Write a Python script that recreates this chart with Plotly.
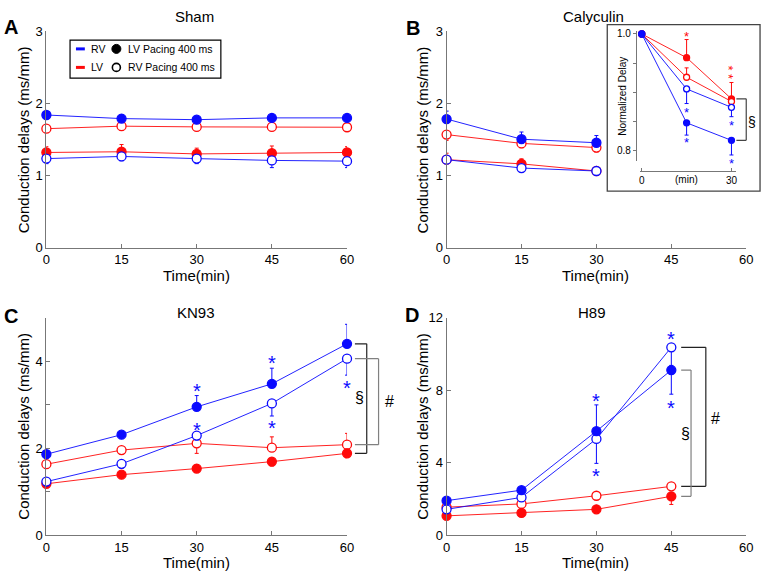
import plotly.graph_objects as go

W, H = 770, 583
BLUE = "#0a0aff"
RED = "#ff0a0a"
AXC = "#777777"
FONT = "Liberation Sans, Arial, sans-serif"

# ---------------- data ----------------
time_A = [0, 15, 30, 45, 60]
A_rv_lvpace = [1.84, 1.79, 1.775, 1.80, 1.80]
A_rv_lvpace_up = [0.04, 0.04, 0.04, 0.04, 0.04]
A_lv_rvpace = [1.65, 1.685, 1.675, 1.675, 1.67]
A_lv_rvpace_dn = [0.04, 0.05, 0.04, 0.04, 0.04]
A_lv_lvpace = [1.32, 1.33, 1.30, 1.31, 1.32]
A_lv_lvpace_up = [0.08, 0.10, 0.08, 0.10, 0.08]
A_rv_rvpace = [1.235, 1.265, 1.235, 1.21, 1.20]
A_rv_rvpace_dn = [0.07, 0.06, 0.07, 0.10, 0.09]

time_B = [0, 15, 30]
B_rv_lvpace = [1.784, 1.504, 1.455]
B_rv_lvpace_up = [0.11, 0.10, 0.10]
B_lv_rvpace = [1.568, 1.446, 1.388]
B_lv_rvpace_dn = [0.08, 0.06, 0.06]
B_lv_lvpace = [1.22, 1.162, 1.063]
B_lv_lvpace_up = [0.09, 0.07, 0.05]
B_rv_rvpace = [1.22, 1.104, 1.063]
B_rv_rvpace_dn = [0.03, 0.03, 0.03]

time_inset = [0, 15, 30]
I_lv_lvpace = [1.0, 0.9595, 0.889]
I_lv_lvpace_up = [0, 0.031, 0.028]
I_lv_rvpace = [1.0, 0.926, 0.8845]
I_lv_rvpace_up = [0, 0.016, 0.0]
I_rv_rvpace = [1.0, 0.906, 0.8745]
I_rv_rvpace_dn = [0, 0.025, 0.016]
I_rv_lvpace = [1.0, 0.848, 0.818]
I_rv_lvpace_dn = [0, 0.021, 0.025]

time_C = [0, 15, 30, 45, 60]
C_rv_lvpace = [1.86, 2.31, 2.95, 3.48, 4.40]
C_rv_lvpace_up = [0.05, 0.06, 0.26, 0.36, 0.45]
C_rv_rvpace = [1.23, 1.64, 2.29, 3.03, 4.06]
C_rv_rvpace_dn = [0.05, 0.10, 0.10, 0.29, 0.38]
C_lv_rvpace = [1.63, 1.955, 2.11, 2.01, 2.08]
C_lv_rvpace_up = [0.0, 0.07, 0.0, 0.25, 0.26]
C_lv_rvpace_dn = [0.0, 0.0, 0.23, 0.0, 0.0]
C_lv_lvpace = [1.18, 1.39, 1.53, 1.69, 1.88]
C_lv_lvpace_dn = [0.05, 0.06, 0.05, 0.10, 0.10]

time_D = [0, 15, 30, 45]
D_rv_lvpace = [1.90, 2.48, 5.74, 9.11]
D_rv_lvpace_up = [0.0, 0.0, 1.45, 0.0]
D_rv_lvpace_dn = [0.0, 0.0, 0.0, 1.33]
D_rv_rvpace = [1.42, 2.08, 5.31, 10.37]
D_rv_rvpace_dn = [0.0, 0.0, 1.35, 1.0]
D_lv_rvpace = [1.54, 1.72, 2.17, 2.69]
D_lv_lvpace = [1.06, 1.22, 1.42, 2.14]
D_lv_lvpace_dn = [0.0, 0.0, 0.0, 0.45]

# significance stars (time, level, text)
stars_I_red = [(15, 1.0, "*"), (30, 0.9335, "**")]
stars_I_blue = [(15, 0.871, "*"), (15, 0.8195, "*"), (30, 0.848, "*"), (30, 0.784, "*")]
stars_C = [(30, 3.44, "*"), (30, 2.54, "*"), (45, 4.07, "*"), (45, 2.58, "*"),
           (60, 5.03, "*"), (60, 3.49, "*")]
stars_D = [(30, 7.68, "*"), (30, 3.55, "*"), (45, 11.09, "*"), (45, 7.28, "*")]

titles = ["Sham", "Calyculin", "KN93", "H89"]
letters = ["A", "B", "C", "D"]


def px(x):
    return x / W


def py(y):
    return 1 - y / H


fig = go.Figure()


def series(xa, ya, x, y, color, filled, up=None, dn=None, size=9):
    n = len(x)
    up = up if up is not None else [0] * n
    dn = dn if dn is not None else [0] * n
    fig.add_trace(go.Scatter(
        x=x, y=y, xaxis=xa, yaxis=ya, mode="lines+markers",
        line=dict(color=color, width=0.9),
        marker=dict(size=size, color=color if filled else "white",
                    line=dict(color=color, width=1.3)),
        error_y=dict(type="data", symmetric=False, array=up, arrayminus=dn,
                     color=color, thickness=1, width=2),
        cliponaxis=False, showlegend=False, hoverinfo="skip"))


# Panel A
series("x", "y", time_A, A_lv_rvpace, RED, False, dn=A_lv_rvpace_dn)
series("x", "y", time_A, A_lv_lvpace, RED, True, up=A_lv_lvpace_up)
series("x", "y", time_A, A_rv_rvpace, BLUE, False, dn=A_rv_rvpace_dn)
series("x", "y", time_A, A_rv_lvpace, BLUE, True, up=A_rv_lvpace_up)
# Panel B
series("x2", "y2", time_B, B_lv_rvpace, RED, False, dn=B_lv_rvpace_dn)
series("x2", "y2", time_B, B_lv_lvpace, RED, True, up=B_lv_lvpace_up)
series("x2", "y2", time_B, B_rv_rvpace, BLUE, False, dn=B_rv_rvpace_dn)
series("x2", "y2", time_B, B_rv_lvpace, BLUE, True, up=B_rv_lvpace_up)
# Panel C
series("x3", "y3", time_C, C_lv_rvpace, RED, False, up=C_lv_rvpace_up, dn=C_lv_rvpace_dn)
series("x3", "y3", time_C, C_lv_lvpace, RED, True, dn=C_lv_lvpace_dn)
series("x3", "y3", time_C, C_rv_rvpace, BLUE, False, dn=C_rv_rvpace_dn)
series("x3", "y3", time_C, C_rv_lvpace, BLUE, True, up=C_rv_lvpace_up)
# Panel D
series("x4", "y4", time_D, D_lv_rvpace, RED, False)
series("x4", "y4", time_D, D_lv_lvpace, RED, True, dn=D_lv_lvpace_dn)
series("x4", "y4", time_D, D_rv_rvpace, BLUE, False, dn=D_rv_rvpace_dn)
series("x4", "y4", time_D, D_rv_lvpace, BLUE, True, up=D_rv_lvpace_up, dn=D_rv_lvpace_dn)
# Inset
series("x5", "y5", time_inset, I_lv_lvpace, RED, True, up=I_lv_lvpace_up, size=6)
series("x5", "y5", time_inset, I_lv_rvpace, RED, False, up=I_lv_rvpace_up, size=6)
series("x5", "y5", time_inset, I_rv_rvpace, BLUE, False, dn=I_rv_rvpace_dn, size=6)
series("x5", "y5", time_inset, I_rv_lvpace, BLUE, True, dn=I_rv_lvpace_dn, size=6)


def xaxis(x0, x1, anchor, rng, tickvals, size=13, **kw):
    d = dict(domain=[px(x0), px(x1)], anchor=anchor, range=rng, tickvals=tickvals,
             showline=True, linecolor=AXC, linewidth=1, ticks="inside", ticklen=4,
             tickcolor=AXC, showgrid=False, zeroline=False,
             tickfont=dict(size=size, color="black", family=FONT))
    d.update(kw)
    return d


def yaxis(y0, y1, anchor, rng, tickvals, ticktext=None, size=13, **kw):
    d = dict(domain=[py(y1), py(y0)], anchor=anchor, range=rng, tickvals=tickvals,
             showline=True, linecolor=AXC, linewidth=1, ticks="inside", ticklen=4,
             tickcolor=AXC, showgrid=False, zeroline=False,
             tickfont=dict(size=size, color="black", family=FONT))
    if ticktext is not None:
        d["ticktext"] = ticktext
    d.update(kw)
    return d


tx = [0, 15, 30, 45, 60]
layout = dict(
    width=W, height=H, margin=dict(l=0, r=0, t=0, b=0),
    paper_bgcolor="white", plot_bgcolor="white",
    font=dict(family=FONT, color="black"),
    xaxis=xaxis(43, 348, "y", [0, 60], tx),
    yaxis=yaxis(25, 247, "x", [0, 3], [0, 1, 2, 3]),
    xaxis2=xaxis(449, 753, "y2", [0, 60], tx),
    yaxis2=yaxis(25, 247, "x2", [0, 3], [0, 1, 2, 3]),
    xaxis3=xaxis(43, 348, "y3", [0, 60], tx),
    yaxis3=yaxis(319, 542, "x3", [0, 5], [0, 1, 2, 3, 4, 5], ["0", "", "2", "", "4", ""]),
    xaxis4=xaxis(449, 753, "y4", [0, 60], tx),
    yaxis4=yaxis(319, 542, "x4", [0, 12], [0, 4, 8, 12]),
    xaxis5=xaxis(645, 743, "free", [-0.66, 31.65], [0, 30], size=10,
                 position=py(168), ticklen=3),
    yaxis5=yaxis(25, 158, "free", [0.7828, 1.0045], [0.8, 0.85, 0.9, 0.95, 1.0],
                 ["0.8", "", "", "", "1.0"], size=10, position=px(641),
                 ticks="outside", ticklen=3),
)
fig.update_layout(**layout)

ann = []
shapes = []


def text(x, y, t, size=15, color="black", angle=0, xanchor="center", **kw):
    ann.append(dict(x=px(x), y=py(y), xref="paper", yref="paper", text=t, showarrow=False,
                    font=dict(size=size, color=color, family=FONT), textangle=angle,
                    xanchor=xanchor, yanchor="middle", **kw))


# titles and letters
for (tx_, ty_), t in zip([(193, 10), (598, 10), (195, 314), (597, 314)], titles):
    text(tx_, ty_, t, size=15)
for (lx, ly), l in zip([(7, 21), (415, 22), (7, 317), (414, 316)], letters):
    text(lx, ly, "<b>%s</b>" % l, size=20)

# axis titles
for (ax_, ay_) in [(20, 136), (425, 136), (20, 430), (425, 430)]:
    text(ax_, ay_, "Conduction delays (ms/mm)", size=15, angle=-90)
for (bx, by) in [(195, 276), (600, 276), (195, 570), (600, 570)]:
    text(bx, by, "Time(min)", size=15)

# inset labels
text(628, 92, "Normalized Delay", size=10, angle=-90)
ann.append(dict(x=15, y=py(177), xref="x5", yref="paper", text="(min)", showarrow=False,
                font=dict(size=10, color="black", family=FONT), yanchor="middle"))


def star(xa, ya, pts, color, size=19, shift=-5):
    for (sx, sy, s) in pts:
        if s == "**":
            # two stacked stars written as one vertical text
            ann.append(dict(x=sx, y=sy, xref=xa, yref=ya, text="* *", showarrow=False,
                            font=dict(size=size, color=color, family=FONT),
                            textangle=90, xanchor="center", yanchor="middle",
                            xshift=shift))
        else:
            ann.append(dict(x=sx, y=sy, xref=xa, yref=ya, text=s, showarrow=False,
                            font=dict(size=size, color=color, family=FONT),
                            yanchor="middle", yshift=shift))


star("x5", "y5", stars_I_red, RED, size=13, shift=-3)
star("x5", "y5", stars_I_blue, BLUE, size=13, shift=-3)
star("x3", "y3", stars_C, BLUE, size=20)
star("x4", "y4", stars_D, BLUE, size=20)


def bracket(ya, ytop, ybot, x0, x1, color):
    for (a, b, c, d) in [(x0, ytop, x1, ytop), (x1, ytop, x1, ybot), (x1, ybot, x0, ybot)]:
        shapes.append(dict(type="line", xref="paper", yref=ya, x0=px(a), x1=px(c),
                           y0=b, y1=d, line=dict(color=color, width=1.2)))


# panel C brackets
bracket("y3", C_rv_lvpace[-1], C_lv_lvpace[-1], 356, 368, "#222222")
bracket("y3", C_rv_rvpace[-1], C_lv_rvpace[-1], 356, 380, "#808080")
text(361, 401, "§", size=16)
text(391, 405, "#", size=16)
# panel D brackets
bracket("y4", D_rv_rvpace[-1], D_lv_rvpace[-1], 687, 712, "#222222")
bracket("y4", D_rv_lvpace[-1], D_lv_lvpace[-1], 687, 697, "#808080")
text(691, 438, "§", size=16)
text(722, 422, "#", size=16)
# inset bracket
bracket("y5", I_lv_lvpace[-1], I_rv_lvpace[-1], 743, 753, "#444444")
text(759, 118, "§", size=14)

# inset frame
shapes.append(dict(type="rect", xref="paper", yref="paper", x0=px(612), x1=px(767),
                   y0=py(189), y1=py(18), line=dict(color="#444444", width=1.3),
                   fillcolor="rgba(0,0,0,0)", layer="below"))

# legend in panel A
shapes.append(dict(type="rect", xref="paper", yref="paper", x0=px(67), x1=px(220),
                   y0=py(73), y1=py(34), line=dict(color="black", width=1.2),
                   fillcolor="white", layer="below"))
for yy, col, lab in [(43, BLUE, "RV"), (62, RED, "LV")]:
    shapes.append(dict(type="line", xref="paper", yref="paper", x0=px(73), x1=px(82),
                       y0=py(yy), y1=py(yy), line=dict(color=col, width=3)))
    text(86, yy, lab, size=10.5, xanchor="left")
shapes.append(dict(type="circle", xref="paper", yref="paper", xsizemode="pixel",
                   ysizemode="pixel", xanchor=px(114), yanchor=py(43), x0=-4.5, x1=4.5,
                   y0=-4.5, y1=4.5, fillcolor="black", line=dict(color="black", width=1)))
shapes.append(dict(type="circle", xref="paper", yref="paper", xsizemode="pixel",
                   ysizemode="pixel", xanchor=px(114), yanchor=py(62), x0=-4, x1=4,
                   y0=-4, y1=4, fillcolor="white", line=dict(color="black", width=1.6)))
text(124, 43, "LV Pacing 400 ms", size=10.5, xanchor="left")
text(124, 62, "RV Pacing 400 ms", size=10.5, xanchor="left")

fig.update_layout(annotations=ann, shapes=shapes)
fig.write_html("out.html", config={"displayModeBar": False},
               post_script="document.body.style.margin='0';"
                           "document.body.style.overflow='hidden';")
